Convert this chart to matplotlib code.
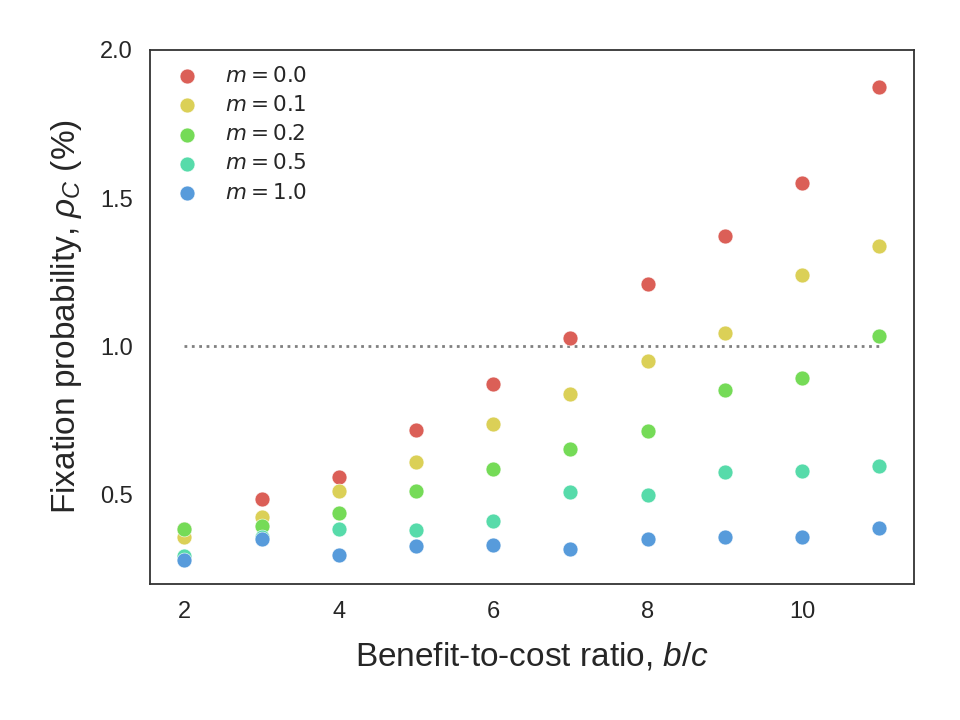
import matplotlib
matplotlib.use("Agg")
import matplotlib.pyplot as plt
import seaborn as sns

# benefit-to-cost ratios
bc = [2, 3, 4, 5, 6, 7, 8, 9, 10, 11]

# fixation probability (%) per migration rate m
rho_m00 = [0.384, 0.485, 0.559, 0.720, 0.875, 1.029, 1.210, 1.373, 1.551, 1.873]
rho_m01 = [0.358, 0.424, 0.514, 0.610, 0.740, 0.841, 0.950, 1.045, 1.242, 1.339]
rho_m02 = [0.384, 0.394, 0.439, 0.512, 0.586, 0.653, 0.714, 0.854, 0.895, 1.034]
rho_m05 = [0.294, 0.358, 0.386, 0.383, 0.413, 0.509, 0.500, 0.576, 0.581, 0.596]
rho_m10 = [0.280, 0.353, 0.297, 0.329, 0.330, 0.319, 0.350, 0.357, 0.359, 0.387]

m_labels = ["0.0", "0.1", "0.2", "0.5", "1.0"]
series = [rho_m00, rho_m01, rho_m02, rho_m05, rho_m10]

sns.set_style("white")
plt.rcParams["font.family"] = ["Liberation Sans", "DejaVu Sans"]
plt.rcParams["mathtext.fontset"] = "custom"
plt.rcParams["mathtext.rm"] = "Liberation Sans"
plt.rcParams["mathtext.it"] = "Liberation Sans:italic"
plt.rcParams["mathtext.bf"] = "Liberation Sans:bold"

colors = sns.color_palette("hls", 7)

fig, ax = plt.subplots(figsize=(9.6, 7.2), dpi=100)
fig.subplots_adjust(left=0.156, right=0.952, top=0.931, bottom=0.189)

for vals, lab, col in zip(series, m_labels, colors):
    ax.scatter(bc, vals, s=115, color=col, edgecolor="white", linewidth=0.4,
               label="$m = %s$" % lab, zorder=3)

ax.plot([bc[0], bc[-1]], [1.0, 1.0], linestyle=":", color="gray", linewidth=2, zorder=2)

ax.set_xlim(1.55, 11.45)
ax.set_ylim(0.2, 2.0)
ax.set_xticks([2, 4, 6, 8, 10])
ax.set_yticks([0.5, 1.0, 1.5, 2.0])
ax.tick_params(axis="both", labelsize=17, length=0, pad=12, colors="#262626")

for sp in ax.spines.values():
    sp.set_color("#333333")
    sp.set_linewidth(1.3)

lbl = dict(fontsize=24, color="#262626", math_fontfamily="custom")
ax.set_xlabel("Benefit-to-cost ratio, $b/c$", labelpad=13, **lbl)
ax.set_ylabel(r"Fixation probability, $\rho_C$ (%)", labelpad=12, **lbl)

ax.legend(loc="upper left", frameon=False,
          prop=dict(size=15.5, math_fontfamily="dejavusans"),
          handletextpad=0.75, labelspacing=0.38, borderaxespad=0.35)

fig.savefig("out.png", dpi=100)
